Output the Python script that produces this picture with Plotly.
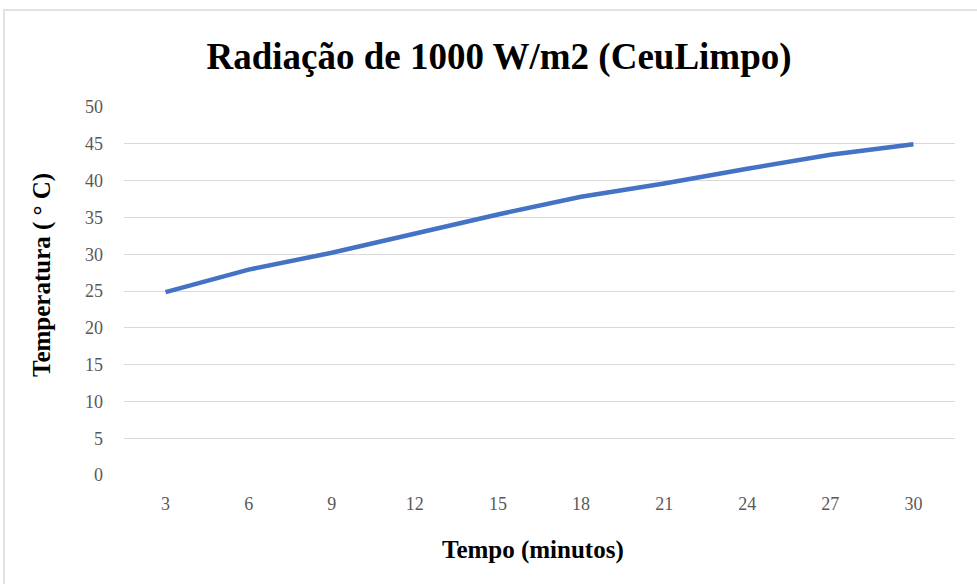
import plotly.graph_objects as go

tempo = ["3", "6", "9", "12", "15", "18", "21", "24", "27", "30"]
temperatura = [24.85, 27.9, 30.2, 32.85, 35.4, 37.8, 39.6, 41.6, 43.5, 44.95]
y_ticks = [0, 5, 10, 15, 20, 25, 30, 35, 40, 45, 50]

W, H = 977, 584
L, R, T, B = 124, 22, 107, 109
pw = W - L - R
ph = H - T - B

fig = go.Figure()
fig.add_trace(go.Scatter(
    x=tempo, y=temperatura, mode="lines",
    line=dict(color="#4472C4", width=4.5),
    hoverinfo="x+y", showlegend=False,
))

serif = "Liberation Serif, Times New Roman, serif"

fig.update_layout(
    width=W, height=H,
    margin=dict(l=L, r=R, t=T, b=B),
    paper_bgcolor="white", plot_bgcolor="white",
    font=dict(family=serif),
    title=dict(
        text="<b>Radiação de 1000 W/m2 (CeuLimpo)</b>",
        x=499 / W, xanchor="center", xref="container",
        y=1 - 56 / H, yanchor="middle", yref="container",
        font=dict(family=serif, size=37, color="black"),
    ),
    xaxis=dict(
        type="category", range=[-0.5, len(tempo) - 0.5],
        showgrid=False, showline=False, zeroline=False,
        ticks="", tickfont=dict(family=serif, size=18, color="#595959"),
        ticklabelstandoff=16,
    ),
    yaxis=dict(
        range=[0, 50], tickvals=y_ticks, showgrid=True, gridcolor="#d9d9d9",
        gridwidth=1.3, zeroline=False, showline=False, ticks="",
        tickfont=dict(family=serif, size=18, color="#595959"),
        ticklabelstandoff=20,
    ),
    annotations=[
        dict(text="<b>Temperatura ( ° C)</b>", xref="paper", yref="paper",
             x=(42 - L) / pw, y=(475 - 275) / ph, textangle=-90,
             showarrow=False, xanchor="center", yanchor="middle",
             font=dict(family=serif, size=25, color="black")),
        dict(text="<b>Tempo (minutos)</b>", xref="paper", yref="paper",
             x=(533 - L) / pw, y=(475 - 550) / ph,
             showarrow=False, xanchor="center", yanchor="middle",
             font=dict(family=serif, size=25, color="black")),
    ],
    shapes=[
        dict(type="rect", xref="paper", yref="paper",
             x0=(4 - L) / pw, x1=(W + 5 - L) / pw,
             y0=(475 - (H + 5)) / ph, y1=(475 - 10) / ph,
             line=dict(color="#d9d9d9", width=1.5), fillcolor="rgba(0,0,0,0)",
             layer="below"),
    ],
)

fig.write_html(
    "out.html",
    config={"displayModeBar": False},
    post_script="document.body.style.margin='0';document.body.style.overflow='hidden';",
)
